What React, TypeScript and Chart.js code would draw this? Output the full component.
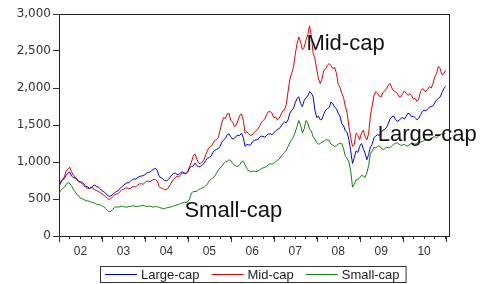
import React, { useEffect, useRef } from "react";
import { Chart, registerables } from "chart.js";

Chart.register(...registerables);

// Observations: start of each month (Jan 2002 .. Jan 2011) and mid-month readings in between
const START_YEAR = 2002;
const monthStartDates: number[] = Array.from({ length: 109 }, (_, i) => START_YEAR + i / 12);
const midMonthDates: number[] = Array.from({ length: 108 }, (_, i) => START_YEAR + (2 * i + 1) / 24);

const yearLabels = ["02", "03", "04", "05", "06", "07", "08", "09", "10"];
const yTickValues = [0, 500, 1000, 1500, 2000, 2500, 3000];
const seriesNames = ["Large-cap", "Mid-cap", "Small-cap"];
const seriesColors = ["#0000e6", "#e60000", "#118011"];

const largeCapMonth = [
  690, 760, 820, 865, 790, 760, 735, 700, 665, 650, 690, 660,
  610, 580, 535, 560, 600, 640, 680, 720, 740, 770, 790, 810,
  830, 860, 890, 915, 800, 770, 745, 790, 845, 830, 855, 850,
  870, 940, 985, 935, 960, 1020, 1060, 1130, 1170, 1210, 1300, 1370,
  1340, 1320, 1360, 1390, 1210, 1230, 1270, 1300, 1330, 1345, 1360, 1380,
  1390, 1440, 1480, 1540, 1570, 1700, 1800, 1880, 1750, 1870, 1950, 1880,
  1600, 1570, 1650, 1720, 1810, 1740, 1660, 1520, 1420, 1300, 980, 1150,
  1210, 1185, 1030, 1200, 1330, 1370, 1400, 1440, 1520, 1610, 1580, 1560,
  1600, 1620, 1650, 1620, 1570, 1640, 1700, 1720, 1750, 1800, 1860, 1940,
  2020,
];
const largeCapMid = [
  740, 775, 850, 810, 785, 735, 725, 670, 645, 680, 665, 640,
  600, 550, 545, 585, 610, 665, 705, 720, 765, 770, 805, 815,
  850, 865, 905, 880, 790, 750, 760, 825, 850, 835, 865, 845,
  920, 945, 950, 940, 980, 1050, 1080, 1160, 1180, 1270, 1320, 1380,
  1310, 1350, 1360, 1330, 1240, 1230, 1290, 1300, 1350, 1335, 1380, 1370,
  1420, 1450, 1520, 1530, 1660, 1720, 1860, 1790, 1830, 1890, 1930, 1700,
  1620, 1580, 1700, 1740, 1790, 1720, 1620, 1490, 1400, 1150, 1060, 1130,
  1250, 1120, 1100, 1240, 1350, 1360, 1430, 1470, 1580, 1620, 1550, 1590,
  1580, 1660, 1610, 1600, 1590, 1680, 1690, 1740, 1760, 1840, 1880, 1990,
];

const midCapMonth = [
  665, 760, 880, 930, 820, 770, 720, 680, 645, 660, 620, 600,
  570, 530, 495, 530, 565, 600, 630, 650, 645, 665, 690, 705,
  720, 740, 755, 760, 665, 640, 630, 690, 760, 810, 830, 850,
  870, 1000, 1110, 985, 1000, 1100, 1200, 1250, 1300, 1430, 1600, 1650,
  1560, 1480, 1560, 1650, 1390, 1380, 1365, 1420, 1480, 1560, 1640, 1680,
  1600, 1570, 1640, 1700, 1950, 2200, 2450, 2690, 2520, 2650, 2840, 2470,
  2250, 2060, 2240, 2310, 2300, 2280, 2050, 1930, 1750, 1480, 1210, 1390,
  1300, 1430, 1300, 1620, 1900, 1930, 1880, 1960, 2040, 2000, 1950, 1880,
  1920, 1930, 1920, 1850, 1820, 1950, 1970, 1980, 2000, 2150, 2290, 2180,
  2240,
];
const midCapMid = [
  720, 800, 900, 870, 800, 740, 710, 655, 640, 650, 615, 590,
  555, 505, 505, 555, 570, 620, 645, 640, 665, 665, 705, 700,
  740, 735, 765, 740, 650, 625, 645, 730, 790, 800, 850, 840,
  940, 1080, 1040, 975, 1030, 1160, 1210, 1290, 1330, 1530, 1590, 1660,
  1540, 1500, 1630, 1560, 1410, 1360, 1400, 1440, 1530, 1580, 1680, 1660,
  1610, 1590, 1690, 1780, 2120, 2280, 2600, 2620, 2550, 2720, 2700, 2400,
  2120, 2130, 2260, 2330, 2260, 2200, 2010, 1870, 1660, 1330, 1240, 1360,
  1390, 1350, 1380, 1760, 1950, 1890, 1940, 1990, 2060, 1960, 1930, 1880,
  1960, 1900, 1900, 1860, 1850, 1990, 1950, 2020, 2060, 2200, 2260, 2190,
];

const smallCapMonth = [
  575, 640, 700, 710, 630, 560, 510, 490, 475, 455, 440, 425,
  405, 370, 330, 360, 395, 395, 400, 390, 400, 405, 400, 410,
  405, 400, 395, 398, 385, 372, 380, 390, 405, 420, 440, 450,
  465, 580, 600, 625, 650, 680, 750, 790, 850, 920, 980, 1010,
  1020, 960, 940, 1000, 960, 880, 870, 870, 890, 920, 940, 975,
  985, 1020, 1070, 1130, 1210, 1300, 1400, 1560, 1390, 1560, 1440, 1340,
  1260, 1250, 1280, 1300, 1240, 1210, 1240, 1250, 1080, 1000, 660, 760,
  790, 810, 850, 1110, 1200, 1210, 1190, 1180, 1190, 1220, 1250, 1240,
  1230, 1220, 1240, 1250, 1255, 1270, 1290, 1300, 1320, 1340, 1350, 1380,
  1390,
];
const smallCapMid = [
  615, 660, 720, 680, 600, 545, 505, 475, 470, 455, 430, 420,
  395, 345, 335, 385, 390, 405, 392, 398, 408, 398, 405, 412,
  398, 402, 390, 395, 378, 368, 385, 395, 415, 425, 448, 455,
  500, 600, 605, 640, 660, 705, 765, 805, 890, 940, 1000, 1030,
  980, 945, 965, 1010, 910, 870, 880, 875, 910, 925, 965, 970,
  1005, 1040, 1100, 1160, 1260, 1340, 1480, 1500, 1450, 1530, 1420, 1310,
  1240, 1270, 1300, 1290, 1230, 1220, 1255, 1180, 1050, 880, 700, 760,
  820, 790, 950, 1150, 1190, 1220, 1170, 1200, 1195, 1240, 1260, 1225,
  1240, 1215, 1250, 1240, 1270, 1275, 1305, 1300, 1335, 1330, 1370, 1375,
];

// In-plot labels: [text, year, value]
const annotations: [string, number, number][] = [
  ["Mid-cap", 2007.76, 2510],
  ["Large-cap", 2009.42, 1285],
  ["Small-cap", 2004.92, 258],
];

const quarterTicks: number[] = [];
for (let y = 2002; y <= 2011; y++) {
  for (let q = 0; q < 4; q++) {
    const v = y + q / 4;
    if (v <= 2011) quarterTicks.push(v);
  }
}

function mergeSeries(monthVals: number[], midVals: number[]) {
  const pts: { x: number; y: number }[] = [];
  for (let i = 0; i < monthVals.length; i++) {
    pts.push({ x: monthStartDates[i], y: monthVals[i] });
    if (i < midVals.length) pts.push({ x: midMonthDates[i], y: midVals[i] });
  }
  return pts;
}

const framePlugin = {
  id: "frameAndExtras",
  afterDraw(chart: any) {
    const { ctx, chartArea } = chart;
    const xs = chart.scales.x;
    const ys = chart.scales.y;
    ctx.save();
    ctx.strokeStyle = "#222";
    ctx.lineWidth = 1;
    ctx.beginPath();
    ctx.moveTo(chartArea.left, Math.round(chartArea.top) + 0.5);
    ctx.lineTo(chartArea.right + 1, Math.round(chartArea.top) + 0.5);
    ctx.moveTo(Math.round(chartArea.right) + 0.5, chartArea.top);
    ctx.lineTo(Math.round(chartArea.right) + 0.5, chartArea.bottom);
    ctx.stroke();
    ctx.strokeStyle = "#333";
    ctx.beginPath();
    for (let y = 2002; y <= 2011; y++) {
      const px = Math.round(xs.getPixelForValue(y)) + 0.5;
      ctx.moveTo(px, chartArea.bottom);
      ctx.lineTo(px, chartArea.bottom + 6);
    }
    ctx.stroke();
    ctx.fillStyle = "#111";
    ctx.font = '22px "Liberation Sans", Arial, sans-serif';
    ctx.textBaseline = "alphabetic";
    ctx.textAlign = "left";
    for (const [t, xv, yv] of annotations) {
      ctx.fillText(t, xs.getPixelForValue(xv), ys.getPixelForValue(yv));
    }
    const ds = chart.data.datasets;
    ctx.font = '13px "Liberation Sans", Arial, sans-serif';
    const boxLeft = 100;
    const boxTop = 266;
    const boxH = 16;
    const cy = boxTop + boxH / 2;
    let x = boxLeft + 5;
    const items: { x: number; w: number }[] = [];
    for (let i = 0; i < ds.length; i++) {
      const w = ctx.measureText(ds[i].label).width;
      items.push({ x, w });
      x += 32 + 4 + w + 12;
    }
    const boxRight = x - 12 + 6;
    ctx.strokeStyle = "#333";
    ctx.strokeRect(boxLeft + 0.5, boxTop + 0.5, boxRight - boxLeft, boxH);
    ctx.textBaseline = "middle";
    for (let i = 0; i < ds.length; i++) {
      const it = items[i];
      ctx.strokeStyle = ds[i].borderColor;
      ctx.beginPath();
      ctx.moveTo(it.x, Math.round(cy) + 0.5);
      ctx.lineTo(it.x + 32, Math.round(cy) + 0.5);
      ctx.stroke();
      ctx.fillStyle = "#222";
      ctx.fillText(ds[i].label, it.x + 36, cy + 1);
    }
    ctx.restore();
  },
};

export default function App() {
  const canvasRef = useRef<HTMLCanvasElement | null>(null);

  useEffect(() => {
    if (!canvasRef.current) return;
    const seriesData = [
      mergeSeries(largeCapMonth, largeCapMid),
      mergeSeries(midCapMonth, midCapMid),
      mergeSeries(smallCapMonth, smallCapMid),
    ];
    const chart = new Chart(canvasRef.current, {
      type: "line",
      data: {
        datasets: seriesNames.map((name, i) => ({
          label: name,
          data: seriesData[i],
          borderColor: seriesColors[i],
          backgroundColor: seriesColors[i],
          borderWidth: 1,
          pointRadius: 0,
          tension: 0,
          fill: false,
        })),
      },
      options: {
        animation: false,
        responsive: false,
        devicePixelRatio: 1,
        layout: { padding: { left: 0, top: 14, right: 40, bottom: 0 } },
        plugins: {
          legend: { display: false },
          tooltip: { enabled: false },
        },
        scales: {
          x: {
            type: "linear",
            min: 2002,
            max: 2011.08,
            border: { display: true, color: "#222" },
            grid: { drawOnChartArea: false, drawTicks: true, tickLength: 3, tickColor: "#333" },
            afterBuildTicks: (s: any) => {
              s.ticks = quarterTicks.map((v) => ({ value: v }));
            },
            afterFit: (s: any) => {
              s.height = 48;
            },
            ticks: {
              autoSkip: false,
              maxRotation: 0,
              minRotation: 0,
              padding: 5,
              color: "#333",
              font: { family: '"Liberation Sans", Arial, sans-serif', size: 12 },
              callback: (v: any) => {
                const n = Number(v);
                const fl = Math.floor(n + 1e-9);
                if (Math.abs(n - fl - 0.5) < 1e-6) return yearLabels[fl - 2002] ?? "";
                return "";
              },
            },
          },
          y: {
            min: 0,
            max: 3000,
            border: { display: true, color: "#222" },
            grid: { drawOnChartArea: false, drawTicks: true, tickLength: 6, tickColor: "#333" },
            afterBuildTicks: (s: any) => {
              s.ticks = yTickValues.map((v) => ({ value: v }));
            },
            afterFit: (s: any) => {
              s.width = 59;
            },
            ticks: {
              padding: 2,
              color: "#333",
              font: { family: '"DejaVu Sans", sans-serif', size: 12 },
              callback: (v: any) => Number(v).toLocaleString("en-US"),
            },
          },
        },
      },
      plugins: [framePlugin],
    });
    return () => chart.destroy();
  }, []);

  return (
    <div style={{ position: "fixed", left: 0, top: 0, width: 489, height: 284, background: "#fff" }}>
      <canvas ref={canvasRef} width={489} height={284} style={{ display: "block" }} />
    </div>
  );
}
